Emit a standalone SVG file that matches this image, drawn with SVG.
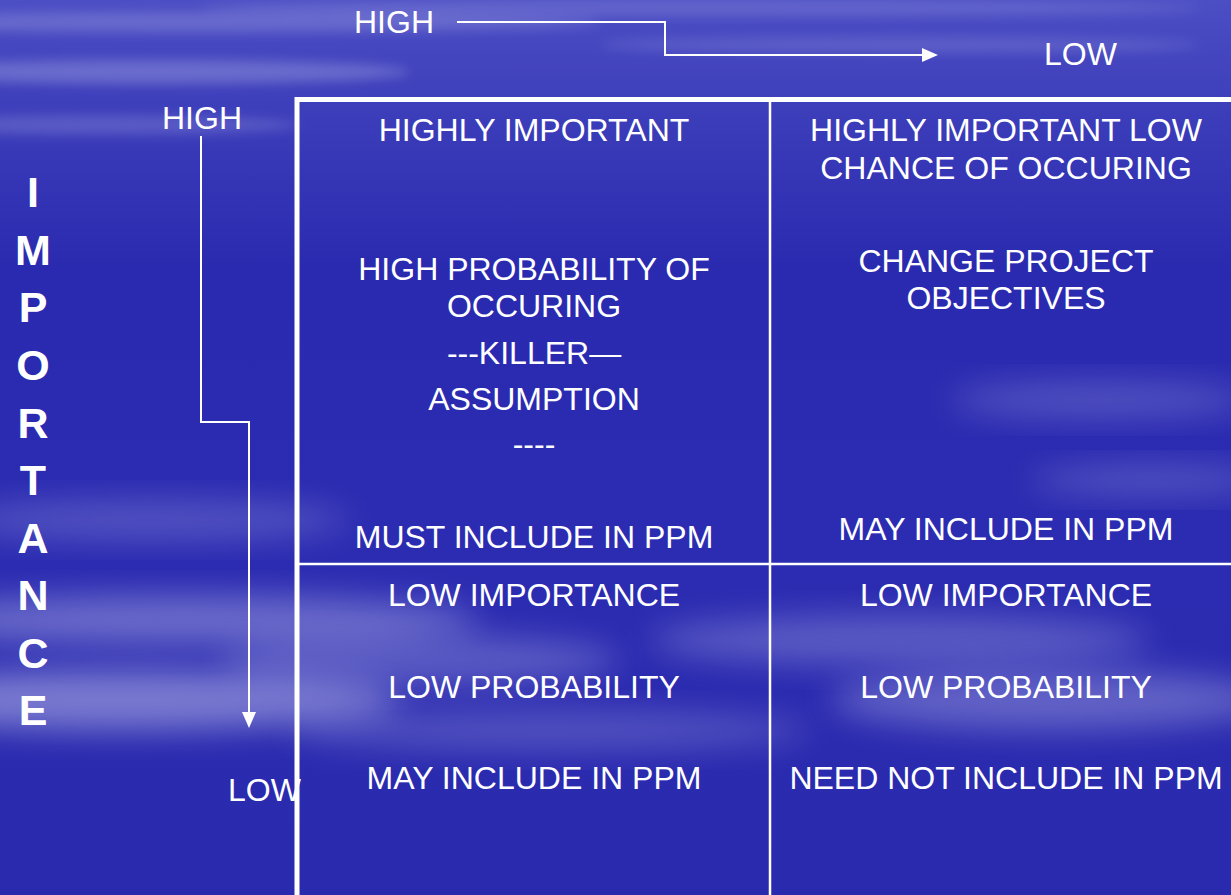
<svg xmlns="http://www.w3.org/2000/svg" width="1231" height="895" viewBox="0 0 1231 895">
  <defs>
    <linearGradient id="bg" x1="0" y1="0" x2="0" y2="1">
      <stop offset="0" stop-color="#4c4ec4"/>
      <stop offset="0.12" stop-color="#3d3eba"/>
      <stop offset="0.3" stop-color="#2a2ab0"/>
      <stop offset="0.6" stop-color="#2c2cb2"/>
      <stop offset="1" stop-color="#2a2aae"/>
    </linearGradient>
    <filter id="blur" x="-50%" y="-50%" width="200%" height="200%">
      <feGaussianBlur stdDeviation="16"/>
    </filter>
    <filter id="blur2" x="-50%" y="-50%" width="200%" height="200%">
      <feGaussianBlur stdDeviation="6"/>
    </filter>
    <marker id="arrow" markerUnits="userSpaceOnUse" markerWidth="16" markerHeight="16" refX="14" refY="8" orient="auto">
      <path d="M0,1 L16,8 L0,15 Z" fill="#ffffff"/>
    </marker>
    <style>
      .t { font-family: "Liberation Sans", Arial, sans-serif; font-size: 32px; fill: #ffffff; text-anchor: middle; }
      .ax { font-family: "Liberation Sans", Arial, sans-serif; font-size: 32px; fill: #ffffff; }
      .v { font-family: "Liberation Sans", Arial, sans-serif; font-size: 43px; font-weight: bold; fill: #ffffff; text-anchor: middle; }
      .conn { fill: none; stroke: #ffffff; stroke-width: 2; }
      .outer { fill: none; stroke: #ffffff; stroke-width: 5; }
      .inner { fill: none; stroke: #ffffff; stroke-width: 2.5; }
    </style>
  </defs>

  <!-- background -->
  <rect x="0" y="0" width="1231" height="895" fill="url(#bg)"/>
  <g id="clouds" fill="#c8c8f0">
    <ellipse cx="200" cy="22" rx="400" ry="10" opacity="0.25" filter="url(#blur2)"/>
    <ellipse cx="700" cy="8" rx="500" ry="8" opacity="0.2" filter="url(#blur2)"/>
    <ellipse cx="150" cy="72" rx="260" ry="12" opacity="0.3" filter="url(#blur2)"/>
    <ellipse cx="900" cy="45" rx="300" ry="8" opacity="0.18" filter="url(#blur2)"/>
    <ellipse cx="100" cy="125" rx="200" ry="10" opacity="0.22" filter="url(#blur2)"/>
    <ellipse cx="150" cy="520" rx="200" ry="20" opacity="0.25" filter="url(#blur)"/>
    <ellipse cx="180" cy="620" rx="300" ry="25" opacity="0.4" filter="url(#blur)"/>
    <ellipse cx="120" cy="700" rx="280" ry="30" opacity="0.5" filter="url(#blur)"/>
    <ellipse cx="420" cy="660" rx="200" ry="25" opacity="0.3" filter="url(#blur)"/>
    <ellipse cx="550" cy="730" rx="260" ry="20" opacity="0.25" filter="url(#blur)"/>
    <ellipse cx="900" cy="640" rx="250" ry="25" opacity="0.3" filter="url(#blur)"/>
    <ellipse cx="1050" cy="700" rx="220" ry="30" opacity="0.35" filter="url(#blur)"/>
    <ellipse cx="1100" cy="400" rx="150" ry="18" opacity="0.25" filter="url(#blur)"/>
    <ellipse cx="1150" cy="480" rx="120" ry="15" opacity="0.25" filter="url(#blur)"/>
  </g>

  <!-- axis labels -->
  <g id="axis-labels">
    <text class="ax" x="354" y="33">HIGH</text>
    <text class="ax" x="1044" y="65">LOW</text>
    <text class="ax" x="162" y="129">HIGH</text>
    <text class="ax" x="228" y="801">LOW</text>
  </g>

  <g id="importance-label">
    <text class="v" x="33" y="207">I</text>
    <text class="v" x="33" y="265">M</text>
    <text class="v" x="33" y="322">P</text>
    <text class="v" x="33" y="380">O</text>
    <text class="v" x="33" y="438">R</text>
    <text class="v" x="33" y="495">T</text>
    <text class="v" x="33" y="553">A</text>
    <text class="v" x="33" y="610">N</text>
    <text class="v" x="33" y="668">C</text>
    <text class="v" x="33" y="725">E</text>
  </g>

  <!-- table grid -->
  <g id="grid">
    <rect class="outer" x="297" y="99.5" width="960" height="820"/>
    <line class="inner" x1="770" y1="100" x2="770" y2="895"/>
    <line class="inner" x1="297" y1="564" x2="1231" y2="564"/>
  </g>

  <!-- cells -->
  <g id="cell-high-high">
    <text class="t" x="534" y="141">HIGHLY IMPORTANT</text>
    <text class="t" x="534" y="280">HIGH PROBABILITY OF</text>
    <text class="t" x="534" y="317">OCCURING</text>
    <text class="t" x="534" y="364">---KILLER—</text>
    <text class="t" x="534" y="410">ASSUMPTION</text>
    <text class="t" x="534" y="455">----</text>
    <text class="t" x="534" y="548">MUST INCLUDE IN PPM</text>
  </g>
  <g id="cell-high-low">
    <text class="t" x="1006" y="141">HIGHLY IMPORTANT LOW</text>
    <text class="t" x="1006" y="179">CHANCE OF OCCURING</text>
    <text class="t" x="1006" y="272">CHANGE PROJECT</text>
    <text class="t" x="1006" y="309">OBJECTIVES</text>
    <text class="t" x="1006" y="540">MAY INCLUDE IN PPM</text>
  </g>
  <g id="cell-low-high">
    <text class="t" x="534" y="606">LOW IMPORTANCE</text>
    <text class="t" x="534" y="698">LOW PROBABILITY</text>
    <text class="t" x="534" y="789">MAY INCLUDE IN PPM</text>
  </g>
  <g id="cell-low-low">
    <text class="t" x="1006" y="606">LOW IMPORTANCE</text>
    <text class="t" x="1006" y="698">LOW PROBABILITY</text>
    <text class="t" x="1006" y="789">NEED NOT INCLUDE IN PPM</text>
  </g>

  <!-- connectors -->
  <g id="connectors">
    <polyline class="conn" points="457,22 665,22 665,55 936,55" marker-end="url(#arrow)"/>
    <polyline class="conn" points="201,136 201,422 249,422 249,726" marker-end="url(#arrow)"/>
  </g>
</svg>
